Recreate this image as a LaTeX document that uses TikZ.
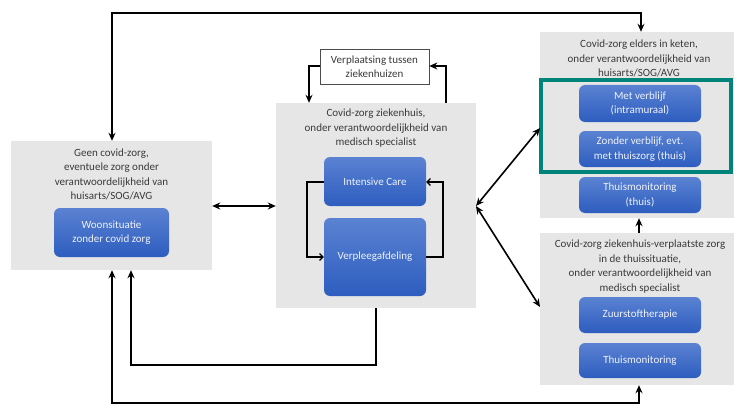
\documentclass[tikz,border=0pt]{standalone}
\usepackage{fontspec}
\setmainfont{Carlito}
\usetikzlibrary{arrows.meta,positioning}
\definecolor{graybg}{HTML}{E6E6E6}
\definecolor{bluetop}{HTML}{5B82D2}
\definecolor{bluebot}{HTML}{2D5DBF}
\definecolor{tealc}{HTML}{00847A}
\definecolor{txtgray}{HTML}{3A3A3A}
\definecolor{btxt}{HTML}{EEF2FA}
\tikzset{
  panel/.style={fill=graybg, draw=none, inner sep=0pt},
  title/.style={align=center, text=txtgray, font=\fontsize{11}{14.5}\selectfont, inner sep=0pt},
  bluebox/.style={rounded corners=6pt, top color=bluetop, bottom color=bluebot, draw=none,
    inner sep=0pt, align=center, text=btxt, font=\fontsize{11}{14.5}\selectfont},
  arr/.style={line width=1.6pt, draw=black, {Stealth[length=8pt,width=7pt]}-{Stealth[length=8pt,width=7pt]}},
  arrone/.style={line width=1.6pt, draw=black, -{Stealth[length=8pt,width=7pt]}},
  looparr/.style={line width=1.1pt, draw=black, -{Straight Barb[length=3.5pt,width=7pt]}},
}
\begin{document}
\begin{tikzpicture}[x=1pt,y=-1pt]
\useasboundingbox (0,0) rectangle (734,404);
% panels
\node[panel, minimum width=201pt, minimum height=129pt] (L) at (111.5,205.5) {};
\node[panel, minimum width=200pt, minimum height=205pt] (M) at (376,205.5) {};
\node[panel, minimum width=194pt, minimum height=186pt] (RT) at (637,125) {};
\node[panel, minimum width=194pt, minimum height=152pt] (RB) at (637,309) {};
% titles
\node[title] (Lt) at (111.5,174.5) {Geen covid-zorg,\\eventuele zorg onder\\verantwoordelijkheid van\\huisarts/SOG/AVG};
\node[title] (Mt) at (376,128.5) {Covid-zorg ziekenhuis,\\onder verantwoordelijkheid van\\medisch specialist};
\node[title] (RTt) at (639,58.5) {Covid-zorg elders in keten,\\onder verantwoordelijkheid van\\huisarts/SOG/AVG};
\node[title] (RBt) at (640,266.5) {Covid-zorg ziekenhuis-verplaatste zorg\\in de thuissituatie,\\onder verantwoordelijkheid van\\medisch specialist};
% verplaatsing box
\node[draw=black!70, line width=0.6pt, fill=white, minimum width=109pt, minimum height=35pt, inner sep=0pt,
  align=center, text=txtgray, font=\fontsize{11}{14.5}\selectfont] (V) at (374.5,66.5) {Verplaatsing tussen\\ziekenhuizen};
% teal selection
\node[draw=tealc, line width=3.5pt, minimum width=190pt, minimum height=92pt, inner sep=0pt] (sel) at (636,126) {};
% blue boxes
\node[bluebox, minimum width=115pt, minimum height=49pt] (woon) at (111.5,232.5) {Woonsituatie\\zonder covid zorg};
\node[bluebox, minimum width=102pt, minimum height=49pt] (ic) at (375,181.5) {Intensive Care};
\node[bluebox, minimum width=102pt, minimum height=78pt] (vp) at (375,257) {Verpleegafdeling};
\node[bluebox, minimum width=122pt, minimum height=37pt] (met) at (640,103.5) {Met verblijf\\(intramuraal)};
\node[bluebox, minimum width=122pt, minimum height=36pt] (zon) at (640,149) {Zonder verblijf, evt.\\met thuiszorg (thuis)};
\node[bluebox, minimum width=122pt, minimum height=36pt] (th1) at (640,195) {Thuismonitoring\\(thuis)};
\node[bluebox, minimum width=122pt, minimum height=36pt] (zuur) at (640,315) {Zuurstoftherapie};
\node[bluebox, minimum width=122pt, minimum height=35pt] (th2) at (640,360.5) {Thuismonitoring};
% turning points
\coordinate (t1) at (112,13);
\coordinate (t2) at (641,13);
\coordinate (b1) at (112,403);
\coordinate (b2) at (639,403);
\coordinate (m1) at (376,365);
\coordinate (m2) at (131,365);
\coordinate (v1) at (309,66);
\coordinate (v2) at (446,66);
\coordinate (l1) at (307,182);
\coordinate (l2) at (307,257);
\coordinate (r1) at (443,257);
\coordinate (r2) at (443,182);
\coordinate (mp) at (476,206);
\coordinate (ru) at (540,128);
\coordinate (rd) at (540,307);
% connectors
\draw[arr] (L.north -| t1) -- (t1) -- (t2) -- (RT.north -| t2);
\draw[arr] (L.east |- mp) -- (M.west |- mp);
\draw[arrone] (M.south -| m1) -- (m1) -- (m2) -- (L.south -| m2);
\draw[arr] (L.south -| b1) -- (b1) -- (b2) -- (RB.south -| b2);
\draw[arrone] (V.west |- v1) -- (v1) -- (M.north -| v1);
\draw[arrone] (M.north -| v2) -- (v2) -- (V.east |- v2);
\draw[looparr] (ic.west |- l1) -- (l1) -- (l2) -- (vp.west |- l2);
\draw[looparr] (vp.east |- r1) -- (r1) -- (r2) -- (ic.east |- r2);
\draw[arr] (mp) -- (ru);
\draw[arr] (mp) -- (rd);
\draw[arrone] (RB.north -| b2) -- (RT.south -| b2);
\end{tikzpicture}
\end{document}
